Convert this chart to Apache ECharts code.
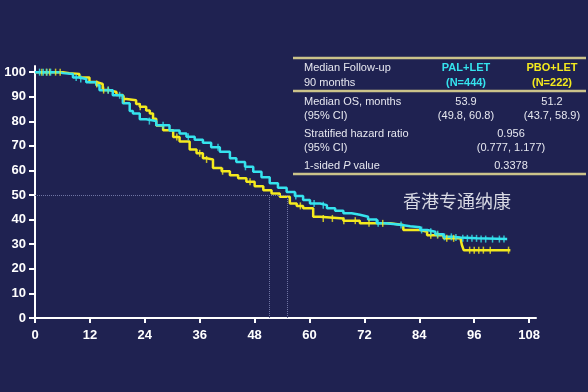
<!DOCTYPE html>
<html><head><meta charset="utf-8">
<script src="https://cdn.jsdelivr.net/npm/echarts@6/dist/echarts.min.js"></script>
<style>html,body{margin:0;padding:0;background:#1f2251;}#c{width:588px;height:392px;}</style>
</head><body><div id="c"></div>
<script>
// ---- Data ----
const xTicks = [0, 12, 24, 36, 48, 60, 72, 84, 96, 108];
const yTicks = [0, 10, 20, 30, 40, 50, 60, 70, 80, 90, 100];
// PAL+LET (cyan) KM curve: months / % surviving
const palTime = [0, 3, 5.3, 6.1, 8.3, 9.7, 11.2, 13.4, 14.1, 17, 19.2, 20.7, 21.4, 22.9, 24.3, 26.5, 29.4, 31.6, 33.1, 34.9, 36.7, 38.5, 40.4, 42.6, 44, 45.9, 47.7, 49.5, 51.3, 53.1, 55, 56.8, 58.6, 60.1, 62.3, 63.8, 65.6, 67.4, 69.2, 71, 72.8, 74.7, 76.5, 78.3, 80.2, 82, 84.2, 85.7, 87.5, 89.3, 91.2, 93, 96.6, 103.2];
const palSurv = [100, 100, 99.6, 99.2, 97.8, 97.2, 95.9, 94.7, 92.6, 90.6, 87.3, 84.2, 83.2, 80.8, 80.1, 78.4, 76.3, 75, 73.7, 72.5, 71.3, 69.5, 67.6, 65, 63.5, 61.5, 59.5, 57.2, 54.8, 53, 51.3, 49.6, 48, 46.6, 45.9, 44.6, 43.6, 42.6, 42, 41.2, 40.1, 38.5, 38.2, 37.8, 37.3, 36.9, 35.8, 35.1, 34.1, 33, 32.7, 32.4, 32.1, 32.1];
// PBO+LET (yellow) KM curve
const pboTime = [0, 4, 6.1, 7.5, 9.7, 11.9, 13.4, 14.8, 16.3, 17.8, 19.2, 20, 22.1, 22.9, 24.3, 25.1, 25.8, 26.5, 28, 30.2, 31.6, 33.8, 35.3, 36.7, 37.5, 38.9, 40.8, 42.6, 44.4, 46.2, 48, 49.9, 51.7, 53.5, 55.7, 57.2, 58.6, 60.8, 62.3, 67.4, 71, 74.7, 77.6, 80.5, 84.2, 85.7, 89.3, 93, 93.3, 93.7, 103.9];
const pboSurv = [100, 100, 99.6, 99.2, 97.8, 96, 95.2, 92.7, 91.9, 90.7, 89.1, 88.6, 87, 85.9, 84.4, 83.2, 81, 78.3, 76.4, 73.6, 71.8, 68.5, 67, 65, 64.5, 61, 59.7, 58.1, 56.8, 55.4, 53.6, 52, 50.6, 49.3, 46.6, 45.6, 44.6, 41.2, 40.5, 39.6, 38.5, 38.5, 37.8, 35.8, 35.1, 33.7, 32.4, 32.4, 29.7, 27.6, 27.6];
// Censor times (months)
const palCensor = [1, 1.8, 2.6, 3.4, 9, 10, 16, 18.5, 25, 28, 33.5, 40, 46, 57, 61, 63, 75, 80, 84.5, 86.5, 88, 89.5, 91, 92, 93.5, 94.5, 95.5, 96.5, 97.5, 98.5, 100, 101.5, 102.5];
const pboCensor = [1.5, 2.5, 3.2, 4.5, 5.5, 13.5, 15, 16, 19.5, 23, 31, 36, 37.5, 41, 47, 58, 63, 65, 67.5, 70, 73, 76, 86.5, 88, 90, 91.5, 95, 96, 97, 98, 99.5, 103.5];
// Median reference
const medians = [51.2, 55.2];
const refLevel = 50;

// Table text
const tableRows = [
  ["Median Follow-up", "90 months"],
  ["Median OS, months", "(95% CI)"],
  ["Stratified hazard ratio", "(95% CI)"],
  ["1-sided P value"]
];
const armNames = ["PAL+LET", "PBO+LET"];
const armN = ["(N=444)", "(N=222)"];
const medianOS = ["53.9", "51.2"];
const medianCI = ["(49.8, 60.8)", "(43.7, 58.9)"];
const hrText = ["0.956", "(0.777, 1.177)"];
const pText = "0.3378";
const watermark = "香港专通纳康";

// ---- Build ----
const CYAN = '#35e3ee', YELLOW = '#f4ea1e', TXT = '#e6e7ef', LINE = '#cbc38a';
function pairs(t, s) { return t.map((v, i) => [v, s[i]]); }
function survAt(t, s, x) { let v = s[0]; for (let i = 0; i < t.length; i++) { if (t[i] <= x) v = s[i]; } return v; }
const chart = echarts.init(document.getElementById('c'), null, {renderer: 'canvas'});
const font = '"Liberation Sans", Arial, sans-serif';
const g = [];
function txt(x, y, text, opt) {
  g.push(Object.assign({type: 'text', x: x, y: y, style: Object.assign({text: text, fill: TXT, font: '11px ' + font, textAlign: 'left', textVerticalAlign: 'middle'}, opt || {})}));
}
function hline(y, x1, x2, w, c) { g.push({type: 'line', shape: {x1: x1, y1: y, x2: x2, y2: y}, style: {stroke: c, lineWidth: w}}); }
hline(58, 293, 586, 2.5, LINE);
hline(91, 293, 586, 2.5, LINE);
hline(174, 293, 586, 2.5, LINE);
const lx = 304, c1 = 466, c2 = 552, cm = 511;
txt(lx, 68, tableRows[0][0]); txt(lx, 83, tableRows[0][1]);
txt(c1, 68, armNames[0], {fill: CYAN, font: 'bold 11px ' + font, textAlign: 'center'});
txt(c1, 83, armN[0], {fill: CYAN, font: 'bold 11px ' + font, textAlign: 'center'});
txt(c2, 68, armNames[1], {fill: YELLOW, font: 'bold 11px ' + font, textAlign: 'center'});
txt(c2, 83, armN[1], {fill: YELLOW, font: 'bold 11px ' + font, textAlign: 'center'});
txt(lx, 102, tableRows[1][0]); txt(lx, 116, tableRows[1][1]);
txt(c1, 102, medianOS[0], {textAlign: 'center'}); txt(c1, 116, medianCI[0], {textAlign: 'center'});
txt(c2, 102, medianOS[1], {textAlign: 'center'}); txt(c2, 116, medianCI[1], {textAlign: 'center'});
txt(lx, 134, tableRows[2][0]); txt(lx, 148, tableRows[2][1]);
txt(cm, 134, hrText[0], {textAlign: 'center'}); txt(cm, 148, hrText[1], {textAlign: 'center'});
g.push({type: 'text', x: lx, y: 166, style: {rich: {a: {fill: TXT, font: '11px ' + font}, b: {fill: TXT, font: 'italic 11px ' + font}}, text: '{a|1-sided }{b|P}{a| value}', textVerticalAlign: 'middle'}});
txt(cm, 166, pText, {textAlign: 'center'});
txt(457, 201, watermark, {fill: '#d9dae4', font: '18px "Noto Sans CJK SC", sans-serif', textAlign: 'center'});

const option = {
  backgroundColor: '#1f2251',
  animation: false,
  grid: {left: 35, right: 52, top: 66, bottom: 74, containLabel: false},
  xAxis: {type: 'value', min: 0, max: 109.5, interval: 12,
    axisLine: {lineStyle: {color: '#ffffff', width: 2}},
    axisTick: {length: 5, customValues: xTicks, lineStyle: {color: '#ffffff', width: 2}},
    axisLabel: {color: '#ffffff', fontWeight: 'bold', fontSize: 13, fontFamily: font, margin: 11, customValues: xTicks},
    splitLine: {show: false}},
  yAxis: {type: 'value', min: 0, max: 102.5, interval: 10,
    axisLine: {show: true, lineStyle: {color: '#ffffff', width: 2}},
    axisTick: {show: true, length: 6, customValues: yTicks, lineStyle: {color: '#ffffff', width: 2}},
    axisLabel: {color: '#ffffff', fontWeight: 'bold', fontSize: 13, fontFamily: font, margin: 9, customValues: yTicks},
    splitLine: {show: false}},
  series: [
    {type: 'line', name: 'ref', data: [], silent: true,
      markLine: {silent: true, symbol: 'none', label: {show: false},
        lineStyle: {color: '#6f74a3', width: 1, type: 'dotted'},
        data: [
          [{coord: [0, refLevel]}, {coord: [medians[1], refLevel]}],
          [{coord: [medians[0], 0]}, {coord: [medians[0], refLevel]}],
          [{coord: [medians[1], 0]}, {coord: [medians[1], refLevel]}]
        ]}},
    {type: 'line', name: 'PBO+LET', step: 'end', showSymbol: false, data: pairs(pboTime, pboSurv), lineStyle: {color: YELLOW, width: 2.5}, z: 3},
    {type: 'line', name: 'PAL+LET', step: 'end', showSymbol: false, data: pairs(palTime, palSurv), lineStyle: {color: CYAN, width: 2.5}, z: 4},
    {type: 'scatter', data: pboCensor.map(t => [t, survAt(pboTime, pboSurv, t)]), symbol: 'rect', symbolSize: [1.5, 7], itemStyle: {color: YELLOW}, z: 5},
    {type: 'scatter', data: palCensor.map(t => [t, survAt(palTime, palSurv, t)]), symbol: 'rect', symbolSize: [1.5, 7], itemStyle: {color: CYAN}, z: 6}
  ],
  graphic: g
};
chart.setOption(option);
</script></body></html>
